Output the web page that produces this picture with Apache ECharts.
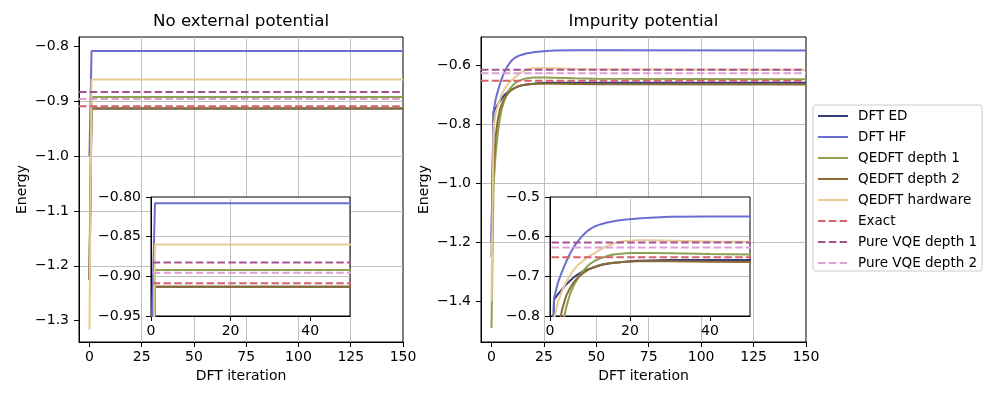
<!DOCTYPE html>
<html><head><meta charset="utf-8">
<script src="https://cdn.jsdelivr.net/npm/echarts@6/dist/echarts.min.js"></script>
<style>html,body{margin:0;padding:0;background:#fff}#c{width:1000px;height:400px}</style>
</head><body><div id="c"></div>
<script>
// ---------- data ----------
const seriesNames = ['DFT ED','DFT HF','QEDFT depth 1','QEDFT depth 2','QEDFT hardware'];
const refNames = ['Exact','Pure VQE depth 1','Pure VQE depth 2'];

// Left panel: No external potential
const itersA = [0, 1, 150];
const edA   = [-1.226, -0.913, -0.913];
const hfA   = [-1.000, -0.808, -0.808];
const q1A   = [-1.200, -0.892, -0.892];
const q2A   = [-1.226, -0.913, -0.913];
const hwA   = [-1.316, -0.860, -0.860];
const refA  = [-0.9088, -0.8827, -0.8955]; // Exact, Pure VQE d1, Pure VQE d2

// Right panel: Impurity potential
const itersB = [0,1,2,3,4,5,6,7,8,9,10,11,12,13,14,15,16,17,18,19,20,22,25,30,40,50,150];
const edB = [-1.200,-0.759,-0.745,-0.733,-0.721,-0.711,-0.702,-0.695,-0.689,-0.684,-0.681,-0.677,-0.674,-0.671,-0.669,-0.667,-0.666,-0.665,-0.664,-0.663,-0.662,-0.661,-0.660,-0.659,-0.659,-0.659,-0.659];
const hfB = [-1.180,-0.755,-0.715,-0.688,-0.664,-0.643,-0.625,-0.611,-0.599,-0.589,-0.581,-0.575,-0.571,-0.568,-0.565,-0.563,-0.561,-0.559,-0.558,-0.557,-0.556,-0.554,-0.552,-0.550,-0.549,-0.549,-0.550];
const q1B = [-1.490,-1.000,-0.900,-0.830,-0.780,-0.745,-0.722,-0.704,-0.690,-0.678,-0.669,-0.662,-0.657,-0.653,-0.650,-0.647,-0.645,-0.644,-0.643,-0.642,-0.641,-0.641,-0.641,-0.642,-0.644,-0.645,-0.647];
const q2B = [-1.250,-0.950,-0.840,-0.785,-0.750,-0.730,-0.714,-0.703,-0.694,-0.687,-0.681,-0.677,-0.673,-0.670,-0.668,-0.667,-0.666,-0.665,-0.664,-0.663,-0.663,-0.662,-0.662,-0.662,-0.663,-0.664,-0.665];
const hwB = [-1.400,-0.810,-0.763,-0.737,-0.715,-0.697,-0.683,-0.671,-0.663,-0.655,-0.648,-0.642,-0.636,-0.630,-0.625,-0.621,-0.617,-0.614,-0.612,-0.611,-0.610,-0.609,-0.609,-0.610,-0.612,-0.613,-0.615];
const refB = [-0.652, -0.615, -0.627];

// tick labels
const xTicksMain  = [0, 25, 50, 75, 100, 125, 150];
const xTicksInset = [0, 20, 40];
const yTicksA     = [-1.3, -1.2, -1.1, -1.0, -0.9, -0.8];
const yTicksAIn   = [-0.95, -0.90, -0.85, -0.80];
const yTicksB     = [-1.4, -1.2, -1.0, -0.8, -0.6];
const yTicksBIn   = [-0.8, -0.7, -0.6, -0.5];

// ---------- styling ----------
const colors = ['#393b79','#6b6ecf','#8ca252','#8c6d31','#e7cb94'];
const refColors = ['#d6616b','#a55194','#de9ed6'];
const FONT = 'DejaVu Sans';

function fmt(d) {
  return function (v) {
    const s = Math.abs(v).toFixed(d);
    return (v < -1e-9 ? '\u2212' : '') + s;
  };
}
function pairs(xs, ys) { return xs.map((x, i) => [x, ys[i]]); }

function mkAxis(gi, min, max, ticks, d, margin, z, extra) {
  return Object.assign({
    type: 'value', gridIndex: gi, min: min, max: max, z: z,
    axisLine: { show: true, onZero: false, lineStyle: { color: '#000', width: 1 } },
    axisTick: { show: true, inside: false, length: 5, customValues: ticks, lineStyle: { color: '#000', width: 1 } },
    axisLabel: { customValues: ticks, margin: margin, color: '#000', fontSize: 14, fontFamily: FONT, formatter: fmt(d) },
    splitLine: { show: true, showMinLine: false, showMaxLine: false, lineStyle: { color: '#b0b0b0', width: 0.8 } }
  }, extra || {});
}

const grids = [
  { left: 79, top: 37, width: 324, height: 305, show: true, borderColor: '#000', borderWidth: 1, backgroundColor: 'rgba(0,0,0,0)', z: 0 },
  { left: 151, top: 197, width: 199, height: 119, show: true, borderColor: '#000', borderWidth: 1, backgroundColor: '#fff', z: 10 },
  { left: 481, top: 37, width: 325, height: 305, show: true, borderColor: '#000', borderWidth: 1, backgroundColor: 'rgba(0,0,0,0)', z: 0 },
  { left: 550, top: 197, width: 200, height: 119, show: true, borderColor: '#000', borderWidth: 1, backgroundColor: '#fff', z: 10 }
];

const nameX = { name: 'DFT iteration', nameLocation: 'middle', nameGap: 27, nameTextStyle: { color: '#000', fontSize: 14, fontFamily: FONT } };
const nameY = { name: 'Energy', nameLocation: 'middle', nameGap: 50, nameRotate: 90, nameTextStyle: { color: '#000', fontSize: 14, fontFamily: FONT } };

const xAxes = [
  mkAxis(0, -5, 150, xTicksMain, 0, 8, 1, nameX),
  mkAxis(1, 0, 50, xTicksInset, 0, 8, 11),
  mkAxis(2, -5, 150, xTicksMain, 0, 8, 1, nameX),
  mkAxis(3, 0, 50, xTicksInset, 0, 8, 11)
];
const yAxes = [
  mkAxis(0, -1.339, -0.7823, yTicksA, 1, 10, 1, nameY),
  mkAxis(1, -0.95, -0.80, yTicksAIn, 2, 10, 11),
  mkAxis(2, -1.537, -0.504, yTicksB, 1, 10, 1, nameY),
  mkAxis(3, -0.8, -0.5, yTicksBIn, 1, 10, 11)
];

const series = [];
function addPanel(gi, z, xs, lists, refs) {
  lists.forEach((ys, k) => {
    series.push({
      type: 'line', name: seriesNames[k], xAxisIndex: gi, yAxisIndex: gi, z: z,
      data: pairs(xs, ys), symbol: 'none', showSymbol: false, clip: true,
      lineStyle: { color: colors[k], width: 2 }, itemStyle: { color: colors[k] },
      animation: false
    });
  });
  refs.forEach((v, k) => {
    series.push({
      type: 'line', name: refNames[k], xAxisIndex: gi, yAxisIndex: gi, z: z,
      data: [[-5, v], [150, v]], symbol: 'none', showSymbol: false, clip: true,
      lineStyle: { color: refColors[k], width: 2, type: [7.5, 3.3] }, itemStyle: { color: refColors[k] },
      animation: false
    });
  });
}
addPanel(0, 2, itersA, [edA, hfA, q1A, q2A, hwA], refA);
addPanel(1, 12, itersA, [edA, hfA, q1A, q2A, hwA], refA);
addPanel(2, 2, itersB, [edB, hfB, q1B, q2B, hwB], refB);
addPanel(3, 12, itersB, [edB, hfB, q1B, q2B, hwB], refB);

const chart = echarts.init(document.getElementById('c'), null, { renderer: 'canvas' });
chart.setOption({
  animation: false,
  backgroundColor: '#fff',
  textStyle: { fontFamily: FONT },
  grid: grids,
  xAxis: xAxes,
  yAxis: yAxes,
  legend: {
    data: seriesNames.concat(refNames),
    orient: 'vertical', left: 813, top: 105,
    padding: [4, 5, 1, 4], itemGap: 7, itemWidth: 30, itemHeight: 14,
    backgroundColor: '#fff', borderColor: '#cccccc', borderWidth: 1, borderRadius: 3,
    selectedMode: false, z: 20,
    itemStyle: { opacity: 0, borderWidth: 0 },
    textStyle: { fontSize: 13.5, color: '#000', fontFamily: FONT, padding: [0, 0, 0, 5] }
  },
  graphic: [
    { type: 'text', x: 241, y: 22, z: 30, style: { text: 'No external potential', fontSize: 16.7, fontFamily: FONT, fill: '#000', align: 'center', verticalAlign: 'middle', textAlign: 'center', textVerticalAlign: 'middle' } },
    { type: 'text', x: 643.5, y: 22, z: 30, style: { text: 'Impurity potential', fontSize: 16.7, fontFamily: FONT, fill: '#000', align: 'center', verticalAlign: 'middle', textAlign: 'center', textVerticalAlign: 'middle' } }
  ],
  series: series
});
</script></body></html>
